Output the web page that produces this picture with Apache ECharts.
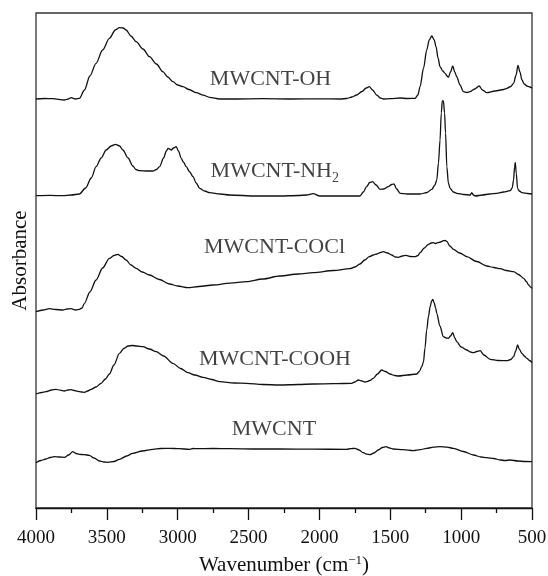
<!DOCTYPE html>
<html>
<head>
<meta charset="utf-8">
<script src="https://cdn.jsdelivr.net/npm/echarts@6/dist/echarts.min.js"></script>
<style>
  html, body { margin: 0; padding: 0; background: #fff; }
  #chart { width: 548px; height: 576px; }
</style>
</head>
<body>
<div id="chart"></div>
<script>
// spectra as [wavenumber, offset absorbance] pairs
var ohData = [[4000,409],[3940,409.5],[3882,409.3],[3800,408],[3770,409],[3753,410.3],[3720,409],[3694,409.7],[3658,418],[3620,432],[3576,444.7],[3530,458],[3482,469.7],[3440,478],[3411,480.3],[3385,480],[3364,478],[3330,472],[3293,466.3],[3245,459],[3199,451.3],[3150,444],[3105,436.3],[3070,431],[3034,426.3],[3000,423],[2963,421.3],[2920,418.5],[2869,415.3],[2820,412.8],[2775,410.7],[2704,409],[2600,409],[2400,409.3],[2200,409],[2000,409.2],[1850,409],[1808,409.5],[1770,411],[1738,413],[1700,416.5],[1670,420],[1648,421.3],[1625,418],[1596,413],[1570,410],[1549,409],[1500,409.3],[1431,410],[1380,409.5],[1325,409.7],[1305,413],[1290,421.3],[1265,440],[1243,458],[1225,468],[1207,472],[1190,468],[1177,461.3],[1163,450],[1149,441.3],[1130,437],[1113,434.7],[1100,432],[1090,430.7],[1075,436],[1059,442],[1045,436],[1031,431.3],[1008,423],[984,416.3],[960,415.5],[937,416.3],[905,419],[873,422],[850,418],[819,415.3],[760,417],[700,418.5],[677,419.7],[650,421.5],[630,424.7],[612,433],[599,442.7],[585,436],[571,428],[555,424],[536,422],[515,421],[500,419.7]];

var nh2Data = [[4000,312.3],[3900,312.6],[3812,312.3],[3750,313],[3694,314],[3650,320],[3610,330],[3576,341.3],[3540,350],[3505,358],[3470,362],[3439,363.7],[3410,362],[3387,358],[3350,350],[3317,342],[3295,338.5],[3270,337.3],[3220,337],[3175,337],[3150,338.5],[3128,341.3],[3100,350],[3080,357],[3069,359.7],[3058,359],[3046,358],[3030,360],[3010,361.3],[2995,357],[2975,349.7],[2960,346],[2940,341.3],[2915,336],[2892,331.3],[2870,325],[2845,319.7],[2810,317],[2775,315.3],[2700,314],[2633,313],[2450,312],[2280,312],[2150,312.5],[2091,313],[2044,314.3],[1997,312],[1850,312],[1714,312],[1690,316],[1667,321.3],[1645,325.5],[1625,326.3],[1600,323],[1573,318.7],[1545,319],[1514,321.3],[1490,323.5],[1474,324],[1455,319],[1431,314.7],[1380,314],[1290,314],[1240,315.5],[1207,318.7],[1185,323],[1172,328],[1160,345],[1149,368],[1140,395],[1133,407],[1125,407],[1117,395],[1110,375],[1101,341.3],[1090,325],[1078,319.7],[1055,316],[1031,314.7],[980,313.5],[937,313],[925,315.3],[913,313],[901,312],[850,313],[800,314],[748,314.7],[700,316],[654,317.3],[640,320],[630,328],[623,341],[618,345.7],[611,334.7],[602,319.7],[590,317],[571,315.3],[530,314.5],[500,314]];

var coclData = [[4000,196.3],[3950,198],[3906,199.3],[3860,198.5],[3812,198],[3780,199],[3753,199.3],[3720,198],[3694,198.7],[3675,200],[3658,204.7],[3620,216],[3576,228],[3530,240],[3482,249.7],[3450,252.5],[3423,253.7],[3395,251.5],[3364,248],[3330,243],[3293,239.7],[3250,236],[3199,233],[3130,228.5],[3058,224],[3000,222],[2928,220.3],[2850,221.5],[2751,223],[2630,224.8],[2515,226.3],[2400,229],[2280,232],[2150,234],[2044,235.3],[1900,237.5],[1785,239.3],[1750,241],[1714,244],[1680,248],[1648,251.3],[1620,253],[1596,254],[1570,255.5],[1549,256.3],[1520,255],[1490,253],[1465,251],[1443,250.7],[1415,252],[1389,252.7],[1360,251.5],[1325,251.3],[1305,252.5],[1290,255.3],[1260,260],[1231,263.7],[1210,265],[1196,265.3],[1180,264.5],[1167,265.3],[1145,266],[1125,267.3],[1112,267.5],[1101,266.7],[1080,262],[1054,258.7],[1010,255],[960,251.3],[890,246.5],[819,242],[770,240.5],[724,239.3],[680,237.5],[630,236.3],[595,233.5],[559,229.7],[540,226.5],[524,223],[510,221],[500,219.7]];

var coohData = [[4000,114],[3960,115.5],[3930,116.3],[3890,118],[3859,118.7],[3830,117.8],[3800,117],[3775,118],[3753,118.3],[3730,117.5],[3706,116.7],[3680,116],[3658,115.7],[3635,117],[3611,118.7],[3576,121],[3541,124.7],[3510,129],[3482,134],[3450,143],[3411,154.7],[3380,159.5],[3350,162],[3320,162.5],[3290,162],[3246,161.3],[3200,159],[3152,156.3],[3100,152],[3034,144.7],[2980,139.5],[2928,135.3],[2880,133],[2822,130.7],[2760,128.5],[2704,126.3],[2600,125],[2515,124.7],[2400,123.5],[2280,123],[2150,123.5],[2044,124],[1900,124.3],[1773,124.7],[1750,126],[1726,128],[1700,127],[1680,126],[1667,126.3],[1645,127.5],[1620,129.7],[1590,134],[1561,138],[1535,136.5],[1502,134],[1470,132.5],[1443,132],[1380,133],[1314,134],[1295,136.5],[1278,141.3],[1266,146],[1255,160],[1243,178],[1230,192],[1219,201.3],[1208,207],[1200,208.7],[1190,205],[1180,200],[1172,194.7],[1150,182],[1125,171.3],[1105,170],[1090,169.7],[1075,172],[1059,175.3],[1045,170],[1031,166.3],[1000,161],[960,158],[935,156],[913,155.3],[890,156.5],[866,157.3],[840,153],[795,148.7],[740,147.5],[677,147.3],[650,148.5],[630,151.3],[615,157],[602,163],[590,159],[571,154.7],[555,152],[536,149.7],[518,147.5],[500,145.3]];

var mwcntData = [[4000,45.3],[3965,47.5],[3930,49],[3900,50.5],[3871,51.3],[3835,51],[3800,50.7],[3770,53],[3741,56.3],[3718,54.5],[3694,53.7],[3660,53.3],[3623,52.7],[3590,50],[3552,47],[3520,46],[3493,45.7],[3450,46.5],[3411,48.7],[3360,52],[3317,54.7],[3250,57],[3175,58.7],[3120,59.5],[3058,59.7],[2990,59.3],[2916,58.7],[2890,59.5],[2869,59.3],[2750,59.5],[2633,59.3],[2450,59],[2280,59],[2050,58.8],[1808,58.7],[1780,59.3],[1750,59.7],[1720,58],[1691,55.3],[1665,53.8],[1644,53.3],[1615,55],[1585,58],[1555,60.5],[1530,61.3],[1505,60],[1479,59],[1410,58.3],[1337,57.3],[1290,58.3],[1243,59.7],[1195,60.8],[1149,61.3],[1100,60.8],[1054,59.7],[985,56.5],[913,53],[860,51],[819,50.3],[770,49.5],[724,48],[690,47.5],[654,48],[600,47],[550,46.5],[500,46.3]];

var seriesNames = ['MWCNT-OH', 'MWCNT-NH2', 'MWCNT-COCl', 'MWCNT-COOH', 'MWCNT'];
var labelTexts = ['MWCNT-OH', 'MWCNT-NH{sub|2}', 'MWCNT-COCl', 'MWCNT-COOH', 'MWCNT'];
var labelAnchors = [[2345, 429], [2315, 337], [2317, 261], [2314, 149], [2321, 79]];

var allData = [ohData, nh2Data, coclData, coohData, mwcntData];
var serif = '"Liberation Serif", "DejaVu Serif", serif';

var chart = echarts.init(document.getElementById('chart'));

var series = allData.map(function (d, i) {
    return {
        name: seriesNames[i],
        type: 'line',
        data: d,
        showSymbol: false,
        smooth: 0.3,
        smoothMonotone: 'x',
        lineStyle: { color: '#111', width: 1.3 },
        silent: true
    };
});

series.push({
    type: 'scatter',
    symbolSize: 0,
    silent: true,
    data: labelAnchors.map(function (p, i) {
        return { value: p, name: labelTexts[i] };
    }),
    label: {
        show: true,
        position: 'inside',
        formatter: function (p) { return p.name; },
        color: '#111',
        fontFamily: serif,
        fontSize: 22,
        rich: {
            sub: { fontSize: 14, fontFamily: serif, color: '#111', verticalAlign: 'bottom', padding: [0, 0, -3, 0] }
        }
    }
});

var option = {
    animation: false,
    grid: {
        left: 36, right: 16, top: 13, bottom: 68,
        outerBoundsMode: 'none',
        containLabel: false,
        show: true,
        borderColor: '#333',
        borderWidth: 1.3
    },
    xAxis: {
        type: 'value',
        inverse: true,
        min: 500,
        max: 4000,
        interval: 500,
        name: 'Wavenumber (cm{sup|\u22121})',
        nameLocation: 'middle',
        nameGap: 46,
        nameTextStyle: {
            fontFamily: serif, fontSize: 21, color: '#111',
            rich: {
                sup: { fontSize: 13, fontFamily: serif, color: '#111', verticalAlign: 'top', padding: [0, 0, 10, 0] }
            }
        },
        axisLine: { lineStyle: { color: '#111', width: 1.3 } },
        axisTick: { inside: false, length: 12, lineStyle: { color: '#111', width: 1.3 } },
        minorTick: { show: true, splitNumber: 2, length: 5, lineStyle: { color: '#111', width: 1.3 } },
        axisLabel: {
            margin: 21, fontFamily: serif, fontSize: 19, color: '#111',
            formatter: function (v) { return String(v); }
        },
        splitLine: { show: false }
    },
    yAxis: {
        type: 'value',
        min: 0,
        max: 495,
        name: 'Absorbance',
        nameLocation: 'middle',
        nameGap: 5,
        nameTextStyle: { fontFamily: serif, fontSize: 21, color: '#111' },
        axisLine: { show: false },
        axisTick: { show: false },
        axisLabel: { show: false },
        splitLine: { show: false }
    },
    series: series
};

chart.setOption(option);
</script>
</body>
</html>
